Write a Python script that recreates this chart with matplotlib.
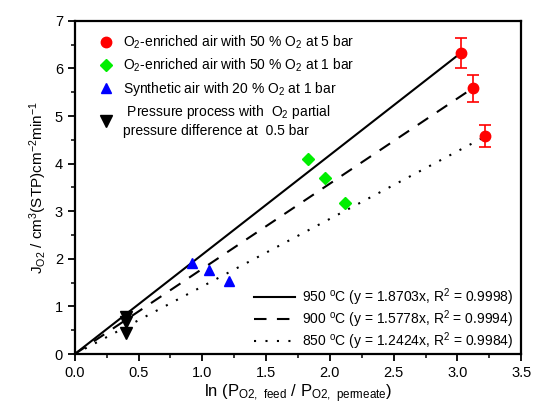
import matplotlib
matplotlib.use("Agg")
import matplotlib.pyplot as plt
from matplotlib.lines import Line2D
from matplotlib.ticker import MultipleLocator
import numpy as np

plt.rcParams.update({"font.family": ["Liberation Sans", "DejaVu Sans"],
                     "mathtext.default": "regular", "font.size": 10})

# ---- data ----
red_x = [3.03, 3.12, 3.22]
red_y = [6.33, 5.58, 4.58]
red_err = [0.32, 0.28, 0.23]
green_x = [1.83, 1.96, 2.12]
green_y = [4.10, 3.70, 3.17]
blue_x = [0.92, 1.05, 1.21]
blue_y = [1.91, 1.76, 1.53]
black_x = [0.40, 0.40, 0.40]
black_y = [0.78, 0.68, 0.45]

# fitted lines (slopes as drawn in the picture, end at the 5 bar points)
fit_slope = [2.09, 1.79, 1.42]
fit_xend = [3.03, 3.12, 3.22]
fit_label = ["950 $^o$C (y = 1.8703x, R$^2$ = 0.9998)",
             "900 $^o$C (y = 1.5778x, R$^2$ = 0.9994)",
             "850 $^o$C (y = 1.2424x, R$^2$ = 0.9984)"]
fit_style = ["-", (0, (6, 5)), (0, (1, 4.5))]

fig = plt.figure(figsize=(5.34, 4.17), dpi=100)
ax = fig.add_axes([0.140, 0.151, 0.836, 0.799])

line_handles = []
for s, xe, lab, ls in zip(fit_slope, fit_xend, fit_label, fit_style):
    xx = np.array([0, xe])
    h, = ax.plot(xx, s * xx, color="black", lw=1.5, ls=ls, label=lab)
    line_handles.append(h)

ax.errorbar(red_x, red_y, yerr=red_err, fmt="o", color="#ff0000", ms=7.5,
            capsize=4, elinewidth=1.2, capthick=1.2, zorder=5)
ax.plot(green_x, green_y, "D", color="#00ee00", ms=6.5, zorder=5)
ax.plot(blue_x, blue_y, "^", color="#0000ff", ms=7, zorder=5)
ax.plot(black_x, black_y, "v", color="black", ms=8, zorder=5)

ax.set_xlim(0, 3.5)
ax.set_ylim(0, 7)
ax.xaxis.set_major_locator(MultipleLocator(0.5))
ax.xaxis.set_minor_locator(MultipleLocator(0.25))
ax.yaxis.set_major_locator(MultipleLocator(1))
ax.yaxis.set_minor_locator(MultipleLocator(0.5))
ax.xaxis.set_major_formatter(lambda v, _: f"{v:.1f}")
ax.tick_params(which="major", direction="out", length=5, width=1.3, labelsize=10.5)
ax.tick_params(which="minor", direction="out", length=3, width=1.1)
for sp in ax.spines.values():
    sp.set_linewidth(1.6)

ax.set_xlabel(r"ln (P$_{O2,\ feed}$ / P$_{O2,\ permeate}$)", fontsize=12, labelpad=2)
ax.set_ylabel(r"J$_{O2}$ / cm$^3$(STP)cm$^{-2}$min$^{-1}$", fontsize=11, labelpad=4)

mk = [Line2D([], [], ls="none", marker="o", color="#ff0000", ms=7.5),
      Line2D([], [], ls="none", marker="D", color="#00ee00", ms=6.5),
      Line2D([], [], ls="none", marker="^", color="#0000ff", ms=7),
      Line2D([], [], ls="none", marker="v", color="black", ms=8)]
mk_lab = ["O$_2$-enriched air with 50 % O$_2$ at 5 bar",
          "O$_2$-enriched air with 50 % O$_2$ at 1 bar",
          "Synthetic air with 20 % O$_2$ at 1 bar",
          " Pressure process with  O$_2$ partial\npressure difference at  0.5 bar"]
leg1 = ax.legend(mk, mk_lab, loc="upper left", frameon=False, fontsize=10,
                 handlelength=1.2, handletextpad=0.6, labelspacing=0.4,
                 borderaxespad=0.3, bbox_to_anchor=(0.03, 0.99))
ax.add_artist(leg1)
ax.legend(line_handles, fit_label, loc="lower right", frameon=False, fontsize=10,
          handlelength=3.0, handletextpad=0.5, labelspacing=0.02,
          borderaxespad=0.0, bbox_to_anchor=(0.995, -0.01))

fig.savefig("out.png", dpi=100, facecolor="white")
